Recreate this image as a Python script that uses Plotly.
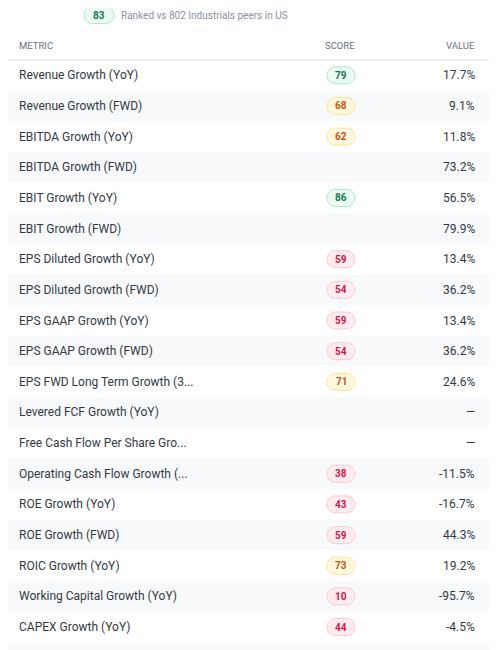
import plotly.graph_objects as go

metrics = ["Revenue Growth (YoY)", "Revenue Growth (FWD)", "EBITDA Growth (YoY)", "EBITDA Growth (FWD)",
           "EBIT Growth (YoY)", "EBIT Growth (FWD)", "EPS Diluted Growth (YoY)", "EPS Diluted Growth (FWD)",
           "EPS GAAP Growth (YoY)", "EPS GAAP Growth (FWD)", "EPS FWD Long Term Growth (3...",
           "Levered FCF Growth (YoY)", "Free Cash Flow Per Share Gro...", "Operating Cash Flow Growth (...",
           "ROE Growth (YoY)", "ROE Growth (FWD)", "ROIC Growth (YoY)", "Working Capital Growth (YoY)",
           "CAPEX Growth (YoY)", ""]
scores = [79, 68, 62, None, 86, None, 59, 54, 59, 54, 71, None, None, 38, 43, 59, 73, 10, 44, None]
values = ["17.7%", "9.1%", "11.8%", "73.2%", "56.5%", "79.9%", "13.4%", "36.2%", "13.4%", "36.2%",
          "24.6%", "—", "—", "-11.5%", "-16.7%", "44.3%", "19.2%", "-95.7%", "-4.5%", ""]
overall_score = 83
W, H = 497, 650
OFF = 8  # page body margin
top, rh = 60, 30.65
FONT = "Roboto"

def style(s):
    if s >= 75: return "#ebfbf3", "#a7ecc9", "#0f7a4d"
    if s >= 60: return "#fff8e1", "#fde58a", "#c4570c"
    return "#fdedf0", "#fbc8d1", "#d3184a"

def pill(cx, cy, w, h, fill, line):
    r = h / 2
    k = 0.5523 * r
    x0, x1, y0, y1 = cx - w/2, cx + w/2, cy - h/2, cy + h/2
    path = (f"M{x0+r},{y0} L{x1-r},{y0} "
            f"C{x1-r+k},{y0} {x1},{cy-k} {x1},{cy} "
            f"C{x1},{cy+k} {x1-r+k},{y1} {x1-r},{y1} "
            f"L{x0+r},{y1} "
            f"C{x0+r-k},{y1} {x0},{cy+k} {x0},{cy} "
            f"C{x0},{cy-k} {x0+r-k},{y0} {x0+r},{y0} Z")
    return dict(type="path", path=path, xref="x", yref="y", fillcolor=fill,
                line=dict(color=line, width=1), layer="below")

shapes, ann = [], []
shapes.append(dict(type="line", x0=7, x1=W + OFF, y0=top, y1=top, xref="x", yref="y",
                   line=dict(color="#dbe2ec", width=1)))
for i, m in enumerate(metrics):
    y0 = top + i * rh
    cy = y0 + rh / 2
    if i % 2 == 1:
        shapes.append(dict(type="rect", x0=7, x1=W + OFF, y0=y0, y1=y0 + rh, xref="x", yref="y",
                           fillcolor="#f8f9fb", line=dict(width=0), layer="below"))
    ann.append(dict(x=17, y=cy, text=m, xanchor="left", showarrow=False,
                    font=dict(family=FONT, size=12, color="#333a44")))
    ann.append(dict(x=477, y=cy, text=values[i], xanchor="right", showarrow=False,
                    font=dict(family=FONT, size=12, color="#333a44")))
    s = scores[i]
    if s is not None:
        f, l, t = style(s)
        shapes.append(pill(341, cy, 28, 17, f, l))
        ann.append(dict(x=341, y=cy, text=f"<b>{s}</b>", showarrow=False,
                        font=dict(family=FONT, size=10, color=t)))

ann.append(dict(x=7, y=15, text="<b>Growth Score</b>", xanchor="left", showarrow=False,
                font=dict(family=FONT, size=12.5, color="#333a44")))
f, l, t = style(overall_score)
shapes.append(pill(99, 15, 30, 17, f, l))
ann.append(dict(x=99, y=15, text=f"<b>{overall_score}</b>", showarrow=False,
                font=dict(family=FONT, size=10, color=t)))
ann.append(dict(x=119, y=15, text="Ranked vs 802 Industrials peers in US", xanchor="left",
                showarrow=False, font=dict(family=FONT, size=10, color="#8c939e")))
for txt, x, xa in [("METRIC", 17, "left"), ("SCORE", 340, "center"), ("VALUE", 477, "right")]:
    ann.append(dict(x=x, y=45, text=txt, xanchor=xa, showarrow=False,
                    font=dict(family=FONT, size=9.5, color="#6b7280")))

fig = go.Figure(go.Scatter(x=[OFF], y=[OFF], mode="markers", marker=dict(opacity=0), hoverinfo="skip"))
fig.update_layout(width=W, height=H, margin=dict(l=0, r=0, t=0, b=0),
                  paper_bgcolor="white", plot_bgcolor="white", showlegend=False,
                  xaxis=dict(range=[OFF, W + OFF], visible=False, fixedrange=True),
                  yaxis=dict(range=[H + OFF, OFF], visible=False, fixedrange=True),
                  shapes=shapes, annotations=ann)
fig.write_html("out.html")
